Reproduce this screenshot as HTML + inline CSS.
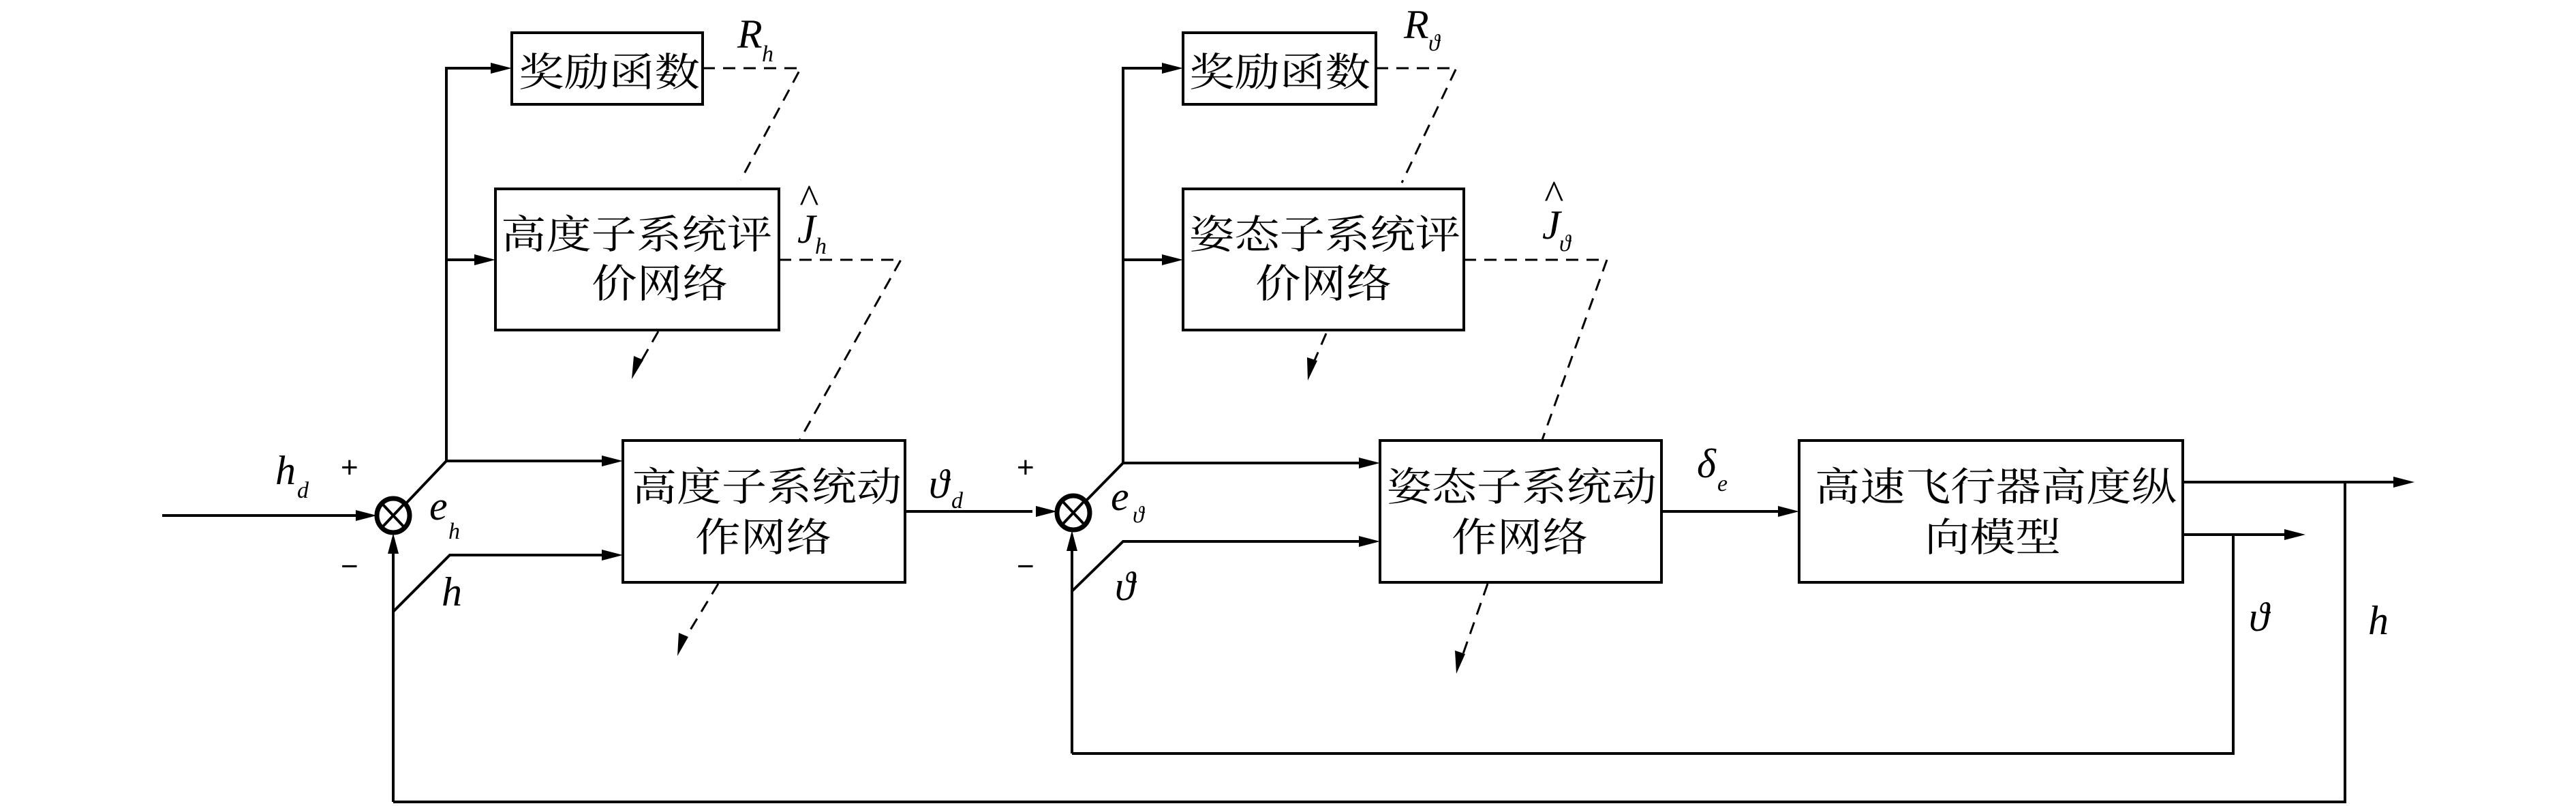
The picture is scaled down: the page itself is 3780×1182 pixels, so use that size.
<!DOCTYPE html>
<html><head><meta charset="utf-8"><style>
html,body{margin:0;padding:0;background:#fff}
svg{display:block}
.cj{font-family:"Liberation Serif","Noto Serif CJK SC","Noto Sans CJK SC",serif;font-size:58px;fill:#000}
.m{font-family:"Liberation Serif",serif;font-style:italic;font-size:60px;fill:#000}
.s{font-family:"Liberation Serif",serif;font-style:italic;font-size:34px;fill:#000}
.p{font-family:"Liberation Sans",sans-serif;font-size:44px;fill:#000}
</style></head><body>
<svg width="3780" height="1182" viewBox="0 0 3780 1182" xmlns="http://www.w3.org/2000/svg">
<defs>
<marker id="a" markerWidth="10" markerHeight="8" refX="10" refY="4" orient="auto" markerUnits="userSpaceOnUse" viewBox="0 0 10 8">
</marker>
</defs>
<g fill="none" stroke="#000" stroke-width="4">
<!-- boxes -->
<rect x="751" y="48" width="280" height="105"/>
<rect x="727" y="277" width="416" height="207"/>
<rect x="914" y="646" width="414" height="208"/>
<rect x="1736" y="48" width="283" height="105"/>
<rect x="1736" y="277" width="412" height="207"/>
<rect x="2025" y="646" width="413" height="208"/>
<rect x="2640" y="646" width="563" height="208"/>
<!-- sum circles -->
<ellipse cx="577" cy="756" rx="24" ry="25" stroke-width="7"/>
<ellipse cx="1575" cy="752" rx="24" ry="25" stroke-width="7"/>
<path d="M561 739 L593 773 M593 739 L561 773" stroke-width="4"/>
<path d="M1559 735 L1591 769 M1591 735 L1559 769" stroke-width="4"/>
<!-- left loop -->
<path d="M238 756 H545"/>
<path d="M596 738 L655 676 H885"/>
<path d="M655 676 V100 H722"/>
<path d="M655 381 H698"/>
<path d="M577 897 L660 814 H885"/>
<path d="M577 1176 V790"/>
<path d="M1328 750 H1515"/>
<!-- right loop -->
<path d="M1594 734 L1648 679 H1996"/>
<path d="M1648 679 V100 H1707"/>
<path d="M1648 381 H1707"/>
<path d="M1573 867 L1648 794 H1996"/>
<path d="M1573 1105 V786"/>
<path d="M2438 750 H2611"/>
<path d="M3203 707 H3513"/>
<path d="M3203 784 H3353"/>
<path d="M3277 784 V1105 H1573"/>
<path d="M3441 707 V1176 H577"/>
<!-- dashed -->
<g stroke-dasharray="18,12" stroke-width="3">
<path d="M1031 100 H1175 L1087 264"/>
<path d="M1143 381 H1322 L1173 646"/>
<path d="M966 486 L935 540"/>
<path d="M1054 856 L1000 945"/>
<path d="M2019 100 H2137 L2057 268"/>
<path d="M2148 381 H2358 L2263 645"/>
<path d="M1946 489 L1924 540"/>
<path d="M2183 856 L2143 970"/>
</g>
</g>
<!-- arrowheads -->
<g fill="#000">
<polygon points="751,100 720,92 720,108"/>
<polygon points="727,381 696,373 696,389"/>
<polygon points="914,676 883,668 883,684"/>
<polygon points="914,814 883,806 883,822"/>
<polygon points="553,756 522,748 522,764"/>
<polygon points="577,782 569,812 585,812"/>
<polygon points="1551,750 1520,742 1520,758"/>
<polygon points="1573,778 1565,808 1581,808"/>
<polygon points="1736,100 1705,92 1705,108"/>
<polygon points="1736,381 1705,373 1705,389"/>
<polygon points="2025,679 1994,671 1994,687"/>
<polygon points="2025,794 1994,786 1994,802"/>
<polygon points="2640,750 2609,742 2609,758"/>
<polygon points="3543,707 3512,699 3512,715"/>
<polygon points="3383,784 3352,776 3352,792"/>
<polygon points="927,556 930,522 944,528"/>
<polygon points="994,962 996,928 1010,934"/>
<polygon points="1919,558 1918,524 1933,529"/>
<polygon points="2137,988 2135,954 2150,959"/>
</g>
<!-- CJK text -->
<text class="cj" x="761" y="126" textLength="266" lengthAdjust="spacingAndGlyphs">奖励函数</text>
<text class="cj" x="1745" y="126" textLength="266" lengthAdjust="spacingAndGlyphs">奖励函数</text>
<text class="cj" x="735" y="364" textLength="398" lengthAdjust="spacingAndGlyphs">高度子系统评</text>
<text class="cj" x="868" y="436" textLength="200" lengthAdjust="spacingAndGlyphs">价网络</text>
<text class="cj" x="1745" y="364" textLength="398" lengthAdjust="spacingAndGlyphs">姿态子系统评</text>
<text class="cj" x="1842" y="436" textLength="200" lengthAdjust="spacingAndGlyphs">价网络</text>
<text class="cj" x="927" y="734" textLength="396" lengthAdjust="spacingAndGlyphs">高度子系统动</text>
<text class="cj" x="1020" y="808" textLength="200" lengthAdjust="spacingAndGlyphs">作网络</text>
<text class="cj" x="2035" y="734" textLength="396" lengthAdjust="spacingAndGlyphs">姿态子系统动</text>
<text class="cj" x="2130" y="808" textLength="200" lengthAdjust="spacingAndGlyphs">作网络</text>
<text class="cj" x="2663" y="734" textLength="531" lengthAdjust="spacingAndGlyphs">高速飞行器高度纵</text>
<text class="cj" x="2824" y="808" textLength="200" lengthAdjust="spacingAndGlyphs">向模型</text>
<!-- math labels -->
<text class="m" x="1082" y="70">R</text><text class="s" x="1118" y="90">h</text>
<text class="m" x="1170" y="356">J</text><text class="m" x="1172" y="312">^</text><text class="s" x="1196" y="372">h</text>
<text class="m" x="2060" y="56">R</text><text class="s" x="2096" y="74">ϑ</text>
<text class="m" x="2263" y="350">J</text><text class="m" x="2265" y="306">^</text><text class="s" x="2288" y="368">ϑ</text>
<text class="m" x="404" y="710">h</text><text class="s" x="436" y="730">d</text>
<text class="p" x="500" y="700">+</text>
<text class="p" x="500" y="845">−</text>
<text class="m" x="630" y="762">e</text><text class="s" x="658" y="790">h</text>
<text class="m" x="648" y="888">h</text>
<text class="m" x="1363" y="730">ϑ</text><text class="s" x="1396" y="745">d</text>
<text class="p" x="1492" y="700">+</text>
<text class="p" x="1492" y="845">−</text>
<text class="m" x="1630" y="748">e</text><text class="s" x="1662" y="766">ϑ</text>
<text class="m" x="1636" y="880">ϑ</text>
<text class="m" x="2490" y="700">δ</text><text class="s" x="2520" y="720">e</text>
<text class="m" x="3300" y="925">ϑ</text>
<text class="m" x="3475" y="930">h</text>
</svg>
</body></html>
